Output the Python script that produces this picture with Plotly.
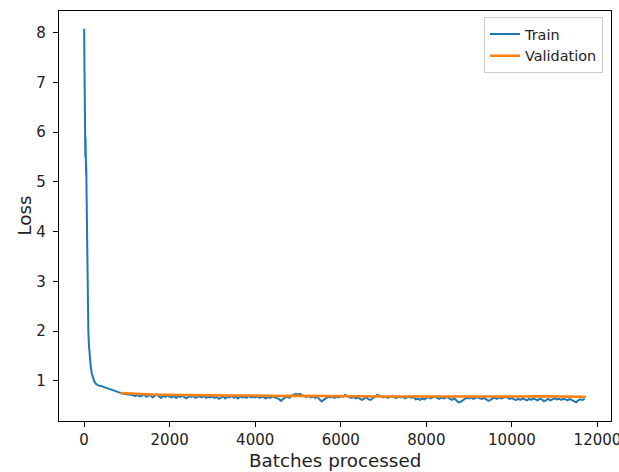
import plotly.graph_objects as go

# ---- data ----
early_steps = [0, 3, 6, 9, 12, 15, 18, 21, 24, 27, 30, 33, 36, 39, 42, 45, 48, 52, 58, 64,
               70, 76, 82, 90, 100, 115, 130, 157, 180, 210, 240, 270, 330, 390, 450, 525,
               625, 700, 760, 820, 880, 940]
early_loss = [8.05, 8.08, 7.60, 6.70, 6.20, 6.60, 5.80, 6.25, 5.70, 6.10,
              5.50, 5.90, 5.20, 5.60, 5.35, 5.50, 5.15, 5.30, 4.80, 4.20,
              3.60, 3.10, 2.70, 2.35, 2.00, 1.70, 1.48, 1.28, 1.15, 1.05,
              0.99, 0.95, 0.91, 0.90, 0.88, 0.86, 0.83, 0.80, 0.78, 0.76,
              0.75, 0.74]

late_steps = list(range(1000, 11701, 50))
late_loss = [
    0.74, 0.73, 0.72, 0.71, 0.70, 0.72, 0.69, 0.70, 0.73, 0.68, 0.70, 0.72, 0.67, 0.70, 0.73, 0.69, 0.66, 0.70, 0.68, 0.71,
    0.68, 0.67, 0.70, 0.66, 0.69, 0.68, 0.71, 0.67, 0.65, 0.69, 0.68, 0.70, 0.66, 0.68, 0.69, 0.67, 0.70, 0.66, 0.68, 0.67,
    0.69, 0.66, 0.68, 0.64, 0.67, 0.69, 0.65, 0.68, 0.67, 0.70, 0.66, 0.68, 0.65, 0.69, 0.67, 0.68, 0.66, 0.70, 0.67, 0.68,
    0.67, 0.69, 0.66, 0.68, 0.67, 0.65, 0.68, 0.66, 0.69, 0.67, 0.66, 0.64, 0.60, 0.63, 0.67, 0.68, 0.66, 0.70, 0.72, 0.74,
    0.73, 0.74, 0.71, 0.69, 0.68, 0.70, 0.67, 0.69, 0.66, 0.68, 0.64, 0.59, 0.62, 0.66, 0.68, 0.67, 0.69, 0.66, 0.68, 0.67,
    0.70, 0.68, 0.72, 0.70, 0.67, 0.66, 0.68, 0.65, 0.67, 0.64, 0.62, 0.65, 0.67, 0.63, 0.62, 0.66, 0.68, 0.72, 0.70, 0.68,
    0.67, 0.69, 0.66, 0.68, 0.70, 0.67, 0.66, 0.69, 0.67, 0.68, 0.65, 0.67, 0.69, 0.66, 0.68, 0.63, 0.64, 0.62, 0.65, 0.63,
    0.66, 0.68, 0.65, 0.67, 0.69, 0.66, 0.64, 0.67, 0.65, 0.66, 0.68, 0.64, 0.62, 0.65, 0.60, 0.57, 0.58, 0.62, 0.64, 0.66,
    0.65, 0.67, 0.64, 0.66, 0.68, 0.65, 0.64, 0.66, 0.63, 0.60, 0.62, 0.65, 0.66, 0.64, 0.67, 0.65, 0.66, 0.68, 0.66, 0.64,
    0.66, 0.63, 0.62, 0.64, 0.62, 0.65, 0.63, 0.61, 0.64, 0.62, 0.65, 0.63, 0.61, 0.64, 0.63, 0.59, 0.62, 0.64, 0.61, 0.63,
    0.65, 0.63, 0.64, 0.62, 0.64, 0.63, 0.61, 0.64, 0.62, 0.60, 0.57, 0.61, 0.63, 0.62, 0.64,
]

val_steps = list(range(850, 11601, 250)) + [11730]
val_loss = [0.76, 0.745, 0.735, 0.73, 0.725, 0.72, 0.72, 0.72, 0.715, 0.715,
            0.71, 0.71, 0.705, 0.705, 0.70, 0.70, 0.705, 0.705, 0.70, 0.695,
            0.695, 0.70, 0.695, 0.69, 0.69, 0.69, 0.685, 0.685, 0.685, 0.68,
            0.68, 0.68, 0.675, 0.675, 0.675, 0.675, 0.68, 0.685, 0.69, 0.695,
            0.695, 0.69, 0.685, 0.68, 0.675]

x_ticks = [0, 2000, 4000, 6000, 8000, 10000, 12000]
x_tick_labels = ["0", "2000", "4000", "6000", "8000", "10000", "12000"]
y_ticks = [1, 2, 3, 4, 5, 6, 7, 8]
y_tick_labels = ["1", "2", "3", "4", "5", "6", "7", "8"]

train_steps = early_steps + late_steps
train_loss = early_loss + late_loss

FONT = "DejaVu Sans"
TEXT = "#222222"

fig = go.Figure()
fig.add_trace(go.Scatter(x=train_steps, y=train_loss, mode="lines", name="Train",
                         line=dict(color="#1f77b4", width=2)))
fig.add_trace(go.Scatter(x=val_steps, y=val_loss, mode="lines", name="Validation",
                         line=dict(color="#ff7f0e", width=2.5)))

axis_common = dict(showline=True, linecolor="black", linewidth=1.2, mirror=True,
                   ticks="outside", ticklen=5, tickwidth=1.2, tickcolor="black",
                   showgrid=False, zeroline=False, automargin=False,
                   ticklabeloverflow="allow",
                   tickfont=dict(family=FONT, size=15, color=TEXT))

fig.update_layout(
    width=619, height=472,
    margin=dict(l=59, r=8, t=11, b=51),
    paper_bgcolor="white", plot_bgcolor="white",
    font=dict(family=FONT, color=TEXT),
    xaxis=dict(range=[-586, 12316], tickvals=x_ticks, ticktext=x_tick_labels, **axis_common),
    yaxis=dict(range=[0.195, 8.437], tickvals=y_ticks, ticktext=y_tick_labels,
               ticklabelstandoff=4, **axis_common),
    legend=dict(x=0.9855, xanchor="right", y=0.985, yanchor="top",
                bgcolor="white", bordercolor="#cccccc", borderwidth=1,
                entrywidth=104, entrywidthmode="pixels",
                font=dict(family=FONT, size=14.4, color=TEXT)),
    showlegend=True,
    annotations=[
        dict(text="Batches processed", xref="paper", yref="paper", x=0.5, y=-0.0959,
             xanchor="center", yanchor="middle", showarrow=False,
             font=dict(family=FONT, size=18.3, color=TEXT)),
        dict(text="Loss", xref="paper", yref="paper", x=-0.0643, y=0.5,
             xanchor="center", yanchor="middle", textangle=-90, showarrow=False,
             font=dict(family=FONT, size=18.3, color=TEXT)),
    ],
)

fig.write_html("out.html", config={"displayModeBar": False},
               post_script="document.body.style.margin='0';document.body.style.padding='0';")
